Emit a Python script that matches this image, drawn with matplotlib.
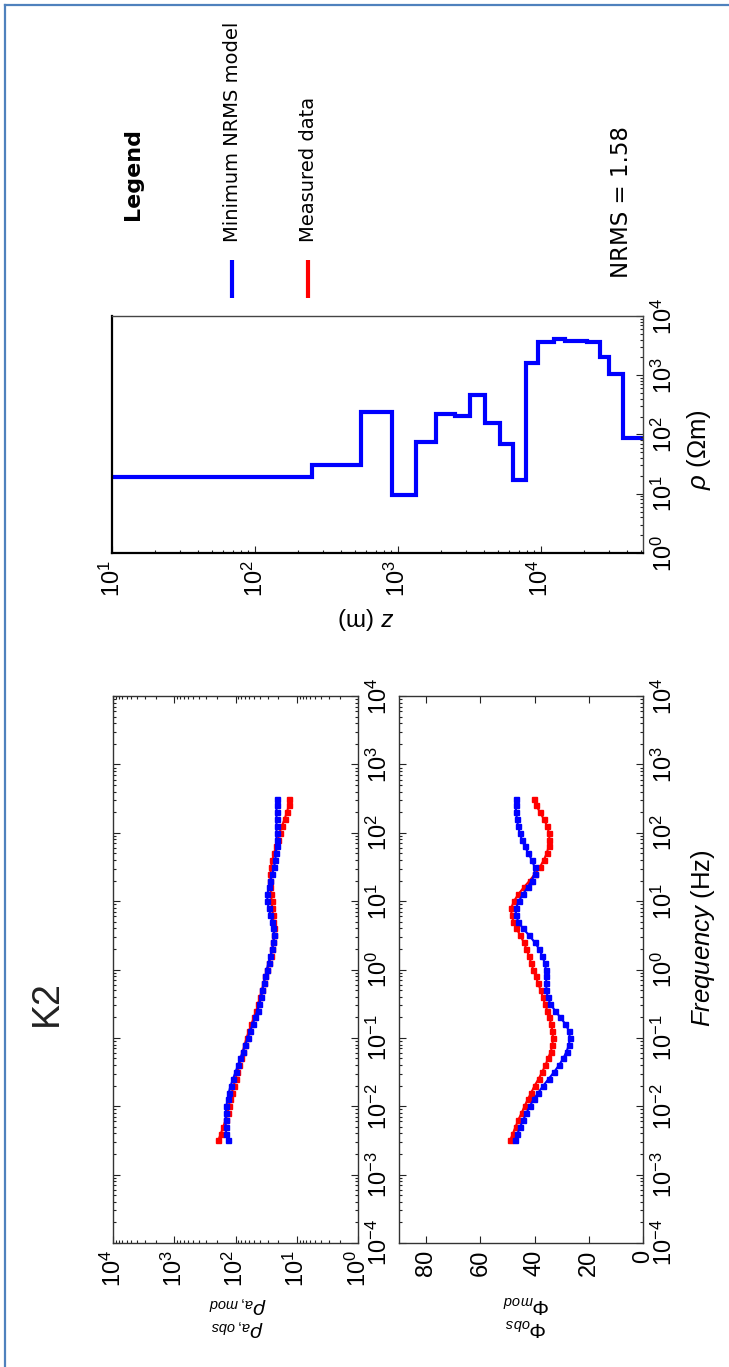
import numpy as np
import matplotlib
matplotlib.use("Agg")
import matplotlib.pyplot as plt
from matplotlib.ticker import LogLocator, NullFormatter, NullLocator, FixedLocator
from matplotlib.lines import Line2D

# ---------------- data ----------------
freq_hz = [0.003162, 0.003981, 0.005012, 0.00631, 0.007943, 0.01, 0.01259, 0.01585, 0.01995, 0.02512,
           0.03162, 0.03981, 0.05012, 0.0631, 0.07943, 0.1, 0.1259, 0.1585, 0.1995, 0.2512,
           0.3162, 0.3981, 0.5012, 0.631, 0.7943, 1.0, 1.259, 1.585, 1.995, 2.512,
           3.162, 3.981, 5.012, 6.31, 7.943, 10.0, 12.59, 15.85, 19.95, 25.12,
           31.62, 39.81, 50.12, 63.1, 79.43, 100.0, 125.9, 158.5, 199.5, 251.2, 316.2]

rho_a_obs = [190.5, 173.8, 158.5, 144.5, 134.9, 128.8, 123.0, 114.8, 107.2, 100.0,
             93.3, 87.1, 81.3, 75.9, 70.8, 66.1, 60.3, 55.0, 50.1, 45.7,
             42.7, 39.8, 37.2, 34.7, 32.4, 30.2, 28.2, 26.3, 25.1, 24.0,
             23.4, 23.4, 24.0, 24.5, 25.1, 25.7, 26.3, 26.9, 26.9, 26.9,
             26.3, 25.1, 23.4, 21.9, 20.4, 19.1, 17.4, 15.8, 14.5, 13.5, 13.2]

rho_a_mod = [134.9, 141.3, 144.5, 144.5, 144.5, 141.3, 134.9, 128.8, 120.2, 109.6,
             100.0, 91.2, 83.2, 75.9, 69.2, 63.1, 57.5, 52.5, 47.9, 43.7,
             40.7, 38.0, 36.3, 34.7, 32.4, 30.9, 28.8, 26.9, 25.1, 24.0,
             23.4, 24.0, 25.1, 26.9, 28.8, 30.2, 30.2, 28.8, 26.9, 25.1,
             23.4, 22.4, 21.9, 21.4, 21.4, 21.4, 21.4, 21.4, 21.4, 21.4, 21.4]

phase_obs = [49.0, 48.0, 47.0, 46.0, 44.8, 43.7, 42.5, 41.2, 40.0, 38.5,
             37.2, 36.0, 35.0, 34.0, 33.4, 33.2, 33.4, 33.9, 34.5, 35.3,
             36.2, 37.0, 37.8, 38.7, 39.6, 40.5, 41.3, 42.1, 43.0, 44.0,
             45.3, 46.7, 47.8, 48.5, 48.6, 47.6, 46.0, 44.0, 41.8, 39.8,
             38.0, 36.6, 35.5, 34.8, 34.5, 34.7, 35.4, 36.6, 38.0, 39.4, 40.2]

phase_mod = [47.2, 46.3, 45.3, 44.2, 43.0, 41.8, 40.3, 38.6, 36.8, 34.8,
             32.8, 31.0, 29.4, 28.2, 27.3, 27.0, 27.3, 28.6, 30.5, 32.5,
             34.2, 35.2, 35.6, 35.7, 35.7, 35.8, 36.3, 37.2, 38.3, 40.0,
             42.0, 44.3, 46.0, 46.9, 46.8, 45.8, 44.3, 42.6, 41.0, 40.0,
             40.0, 41.0, 42.3, 43.6, 44.7, 45.5, 46.1, 46.5, 46.8, 47.0, 47.0]

layer_depth_edges_m = [10, 250, 557, 918, 1337, 1862, 2505, 3187, 4055, 5162,
                       6400, 7946, 9580, 12300, 14800, 21000, 25800, 30200, 37700, 52000]
layer_rho_ohmm = [19.4, 30.6, 243, 9.5, 75.6, 219, 205, 464, 158, 69,
                  17, 1630, 3600, 4080, 3785, 3680, 2055, 1040, 86]

phase_ticks = [0, 20, 40, 60, 80]
title_text = "K2"
legend_labels = ["Minimum NRMS model", "Measured data"]
nrms_text = "NRMS = 1.58"

# ---------------- style ----------------
plt.rcParams.update({
    "font.family": ["Liberation Sans", "DejaVu Sans"],
    "mathtext.fontset": "custom",
    "mathtext.rm": "Liberation Sans",
    "mathtext.it": "Liberation Sans:italic",
    "mathtext.bf": "Liberation Sans:bold",
    "mathtext.sf": "Liberation Sans",
    "axes.unicode_minus": False,
})

W, H = 729, 1367
fig = plt.figure(figsize=(W / 100, H / 100), dpi=100)
fig.patch.set_facecolor("white")


def rect(x0, y0, x1, y1):
    return [x0 / W, 1 - y1 / H, (x1 - x0) / W, (y1 - y0) / H]


def fxy(x, y):
    return x / W, 1 - y / H


TICK_FS = 17
BLUE = (0, 0, 1)
RED = (1, 0, 0)


def style_ticks(ax, mirror):
    ax.tick_params(which="both", direction="in", bottom=True, top=mirror,
                   left=mirror, right=True, labelbottom=True, labeltop=False,
                   labelleft=False, labelright=True, labelsize=TICK_FS, pad=5,
                   width=0.8, color="#222222")
    ax.tick_params(which="major", length=5)
    ax.tick_params(which="minor", length=2.5)
    ax.tick_params(axis="x", labelrotation=90)
    ax.tick_params(axis="y", labelrotation=90, pad=6)


def log_axis(axis):
    axis.set_major_locator(LogLocator(base=10, numticks=20))
    axis.set_minor_locator(LogLocator(base=10, subs=np.arange(2, 10), numticks=20))
    axis.set_minor_formatter(NullFormatter())


def fix_ylabels(ax):
    for t in ax.get_yticklabels():
        t.set_verticalalignment("center")
        t.set_horizontalalignment("left")


# ---------------- apparent resistivity panel ----------------
ax1 = fig.add_axes(rect(113, 696, 358, 1243))
ax1.set_xscale("log")
ax1.set_yscale("log")
ax1.plot(rho_a_obs, freq_hz, color=RED, marker="s", ms=3.6, lw=1.5, mec=RED)
ax1.plot(rho_a_mod, freq_hz, color=BLUE, marker="s", ms=3.6, lw=1.5, mec=BLUE)
ax1.set_xlim(1e4, 1e0)
ax1.set_ylim(1e-4, 1e4)
log_axis(ax1.xaxis)
log_axis(ax1.yaxis)
style_ticks(ax1, True)
for s in ax1.spines.values():
    s.set_color("#333333")
    s.set_linewidth(1.0)
fix_ylabels(ax1)

# ---------------- phase panel ----------------
ax2 = fig.add_axes(rect(399, 696, 643, 1243))
ax2.set_yscale("log")
ax2.plot(phase_obs, freq_hz, color=RED, marker="s", ms=3.6, lw=1.5, mec=RED)
ax2.plot(phase_mod, freq_hz, color=BLUE, marker="s", ms=3.6, lw=1.5, mec=BLUE)
ax2.set_xlim(90, 0)
ax2.set_ylim(1e-4, 1e4)
ax2.xaxis.set_major_locator(FixedLocator(phase_ticks))
ax2.xaxis.set_minor_locator(NullLocator())
log_axis(ax2.yaxis)
style_ticks(ax2, True)
for s in ax2.spines.values():
    s.set_color("#333333")
    s.set_linewidth(1.0)
fix_ylabels(ax2)

# ---------------- model panel ----------------
ax3 = fig.add_axes(rect(112, 316, 643, 553))
ax3.set_xscale("log")
ax3.set_yscale("log")
ax3.stairs(layer_rho_ohmm, layer_depth_edges_m, baseline=None, color=BLUE, lw=3.0)
ax3.set_xlim(10, 52000)
ax3.set_ylim(1e0, 1e4)
log_axis(ax3.xaxis)
log_axis(ax3.yaxis)
style_ticks(ax3, False)
for name, s in ax3.spines.items():
    if name in ("left", "bottom"):
        s.set_color("black")
        s.set_linewidth(1.6)
    else:
        s.set_color("#444444")
        s.set_linewidth(1.0)
fix_ylabels(ax3)

# ---------------- texts ----------------
fig.text(*fxy(47, 1003), title_text, rotation=90, fontsize=27, color="#222222",
         ha="center", va="center")
fig.text(*fxy(703, 938), r"$\mathit{Frequency}$ (Hz)", rotation=90, fontsize=18.5,
         ha="center", va="center")
fig.text(*fxy(237, 1327), r"$\rho_{a,obs}$", rotation=180, fontsize=15,
         ha="center", va="center")
fig.text(*fxy(237, 1304), r"$\rho_{a,mod}$", rotation=180, fontsize=15,
         ha="center", va="center")
fig.text(*fxy(526, 1327), r"$\Phi_{obs}$", rotation=180, fontsize=15,
         ha="center", va="center")
fig.text(*fxy(526, 1304), r"$\Phi_{mod}$", rotation=180, fontsize=15,
         ha="center", va="center")
fig.text(*fxy(699, 450), r"$\rho$ ($\Omega$m)", rotation=90, fontsize=18.5,
         ha="center", va="center")
fig.text(*fxy(366, 618), r"$z$ (m)", rotation=180, fontsize=17.5,
         ha="center", va="center")

# legend
fig.text(*fxy(133, 220), "Legend", rotation=90, fontsize=16, fontweight="bold",
         family="DejaVu Sans", ha="center", va="bottom")
fig.text(*fxy(232, 242), legend_labels[0], rotation=90, fontsize=14,
         family="DejaVu Sans", ha="center", va="bottom")
fig.text(*fxy(308, 242), legend_labels[1], rotation=90, fontsize=14,
         family="DejaVu Sans", ha="center", va="bottom")
for xpix, col in ((232, BLUE), (308, RED)):
    x0, y0 = fxy(xpix, 260)
    x1, y1 = fxy(xpix, 298)
    fig.add_artist(Line2D([x0, x1], [y0, y1], color=col, lw=3.0,
                          transform=fig.transFigure, solid_capstyle="butt"))
fig.text(*fxy(622, 278), nrms_text, rotation=90, fontsize=16.5,
         family="DejaVu Sans", ha="center", va="bottom")

# outer border (left and top edges)
bx0, by0 = fxy(5, 5)
bx1, by1 = fxy(729, 1367)
fig.add_artist(Line2D([bx0, bx0], [by1, by0], color="#4f81bd", lw=1.6,
                      transform=fig.transFigure))
fig.add_artist(Line2D([bx0, bx1], [by0, by0], color="#4f81bd", lw=1.6,
                      transform=fig.transFigure))

fig.savefig("out.png", dpi=100, facecolor="white")
